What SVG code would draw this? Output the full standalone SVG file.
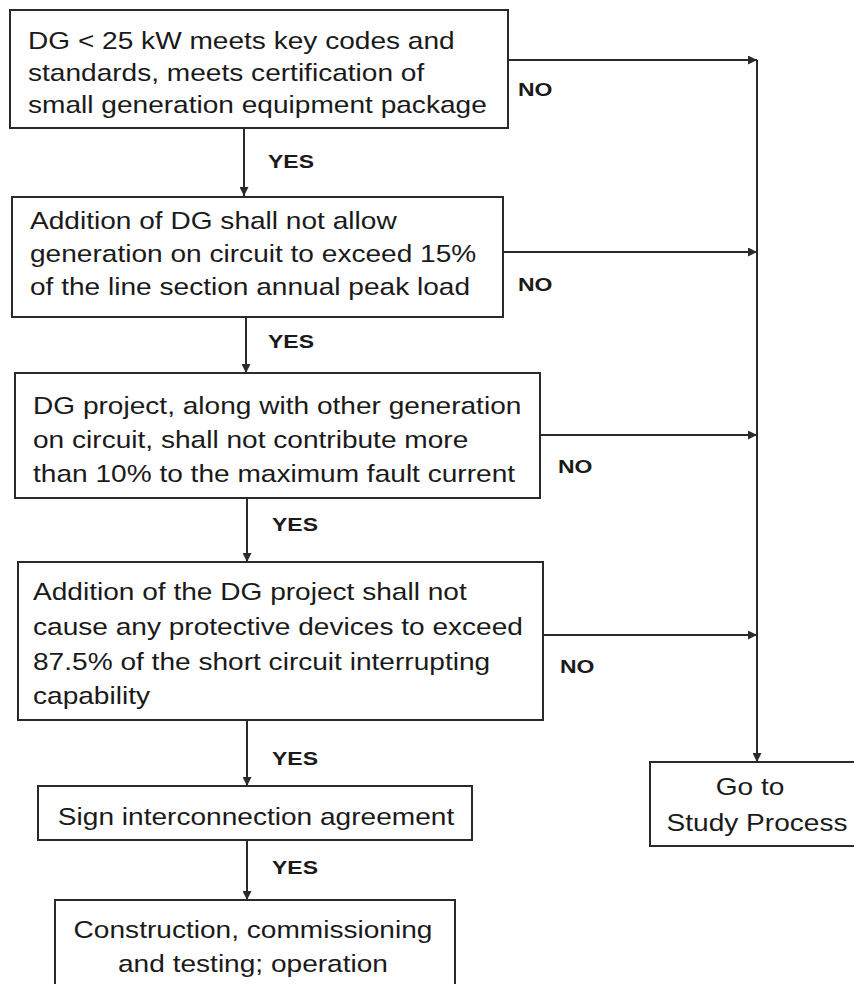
<svg xmlns="http://www.w3.org/2000/svg" width="854" height="984" viewBox="0 0 854 984">
<style>
.box{fill:#fff;stroke:#2a2a2a;stroke-width:2}
.t{font-family:"Liberation Sans",Arial,sans-serif;font-size:24px;fill:#1a1a1a}
.l{font-family:"Liberation Sans",Arial,sans-serif;font-size:19px;font-weight:bold;fill:#1a1a1a}
.c{fill:none;stroke:#2a2a2a;stroke-width:2}
</style>
<defs>
<marker id="ah" viewBox="0 0 10 10" refX="10" refY="5" markerWidth="9" markerHeight="9" markerUnits="userSpaceOnUse" orient="auto">
<path d="M0,0 L10,5 L0,10 z" fill="#2a2a2a"/>
</marker>
</defs>
<rect width="854" height="984" fill="#fff"/>
<g id="connectors">
<line class="c" x1="244" y1="128" x2="244" y2="196" marker-end="url(#ah)"/>
<line class="c" x1="246" y1="317" x2="246" y2="373" marker-end="url(#ah)"/>
<line class="c" x1="247" y1="498" x2="247" y2="562" marker-end="url(#ah)"/>
<line class="c" x1="247" y1="720" x2="247" y2="786" marker-end="url(#ah)"/>
<line class="c" x1="247" y1="840" x2="247" y2="900" marker-end="url(#ah)"/>
<line class="c" x1="508" y1="60" x2="757" y2="60" marker-end="url(#ah)"/>
<line class="c" x1="503" y1="252" x2="757" y2="252" marker-end="url(#ah)"/>
<line class="c" x1="540" y1="435" x2="757" y2="435" marker-end="url(#ah)"/>
<line class="c" x1="543" y1="635" x2="757" y2="635" marker-end="url(#ah)"/>
<line class="c" x1="757" y1="60" x2="757" y2="762" marker-end="url(#ah)"/>
<text class="l" transform="translate(268,168) scale(1.21,1)">YES</text>
<text class="l" transform="translate(268,348) scale(1.21,1)">YES</text>
<text class="l" transform="translate(272,531) scale(1.21,1)">YES</text>
<text class="l" transform="translate(272,765) scale(1.21,1)">YES</text>
<text class="l" transform="translate(272,874) scale(1.21,1)">YES</text>
<text class="l" transform="translate(518,96) scale(1.21,1)">NO</text>
<text class="l" transform="translate(518,291) scale(1.21,1)">NO</text>
<text class="l" transform="translate(558,473) scale(1.21,1)">NO</text>
<text class="l" transform="translate(560,673) scale(1.21,1)">NO</text>
</g>
<g id="n1">
<rect class="box" x="10" y="10" width="498" height="118"/>
<text class="t" transform="translate(28,49) scale(1.17,1)">DG &lt; 25 kW meets key codes and</text>
<text class="t" transform="translate(28,81) scale(1.17,1)">standards, meets certification of</text>
<text class="t" transform="translate(28,113) scale(1.17,1)">small generation equipment package</text>
</g>
<g id="n2">
<rect class="box" x="12" y="197" width="491" height="120"/>
<text class="t" transform="translate(30,229) scale(1.17,1)">Addition of DG shall not allow</text>
<text class="t" transform="translate(30,262) scale(1.17,1)">generation on circuit to exceed 15%</text>
<text class="t" transform="translate(30,295) scale(1.17,1)">of the line section annual peak load</text>
</g>
<g id="n3">
<rect class="box" x="15" y="373" width="525" height="125"/>
<text class="t" transform="translate(33,414) scale(1.17,1)">DG project, along with other generation</text>
<text class="t" transform="translate(33,448) scale(1.17,1)">on circuit, shall not contribute more</text>
<text class="t" transform="translate(33,482) scale(1.17,1)">than 10% to the maximum fault current</text>
</g>
<g id="n4">
<rect class="box" x="18" y="562" width="525" height="158"/>
<text class="t" transform="translate(33,600) scale(1.17,1)">Addition of the DG project shall not</text>
<text class="t" transform="translate(33,635) scale(1.17,1)">cause any protective devices to exceed</text>
<text class="t" transform="translate(33,670) scale(1.17,1)">87.5% of the short circuit interrupting</text>
<text class="t" transform="translate(33,704) scale(1.17,1)">capability</text>
</g>
<g id="n5">
<rect class="box" x="38" y="786" width="434" height="54"/>
<text class="t" text-anchor="middle" transform="translate(256,825) scale(1.17,1)">Sign interconnection agreement</text>
</g>
<g id="n6">
<rect class="box" x="55" y="900" width="400" height="95"/>
<text class="t" text-anchor="middle" transform="translate(253,938) scale(1.17,1)">Construction, commissioning</text>
<text class="t" text-anchor="middle" transform="translate(253,972) scale(1.17,1)">and testing; operation</text>
</g>
<g id="n7">
<rect class="box" x="650" y="762" width="215" height="84"/>
<text class="t" text-anchor="middle" transform="translate(750,795) scale(1.17,1)">Go to</text>
<text class="t" text-anchor="middle" transform="translate(757,831) scale(1.17,1)">Study Process</text>
</g>
</svg>
